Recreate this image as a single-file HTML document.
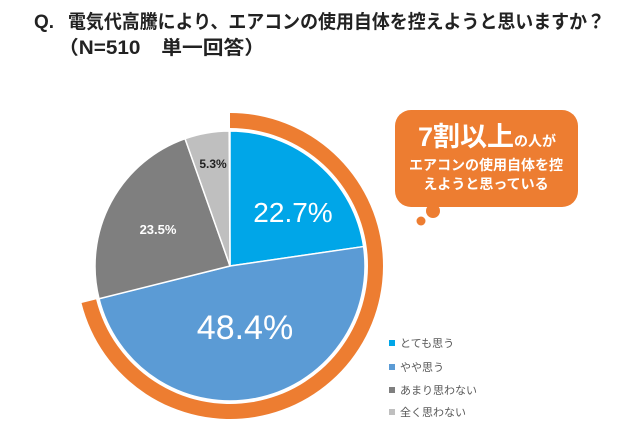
<!DOCTYPE html>
<html><head><meta charset="utf-8"><style>
body{margin:0;width:640px;height:437px;background:#fff;overflow:hidden;font-family:"Liberation Sans","Noto Sans CJK JP",sans-serif;}
</style></head><body>
<svg width="640" height="437" viewBox="0 0 640 437" xmlns="http://www.w3.org/2000/svg" font-family="Liberation Sans, Noto Sans CJK JP, sans-serif">
<text x="34" y="28" font-size="19" font-weight="bold" fill="#222">Q.</text>
<text x="68" y="28" font-size="19" font-weight="bold" fill="#222" textLength="537" lengthAdjust="spacingAndGlyphs">電気代高騰により、エアコンの使用自体を控えようと思いますか？</text>
<text x="58" y="54" font-size="19" font-weight="bold" fill="#222" textLength="207" lengthAdjust="spacingAndGlyphs">（N=510　単一回答）</text>
<g id="pie"></g>
<rect x="395" y="110" width="183" height="97" rx="16" fill="#ED7D31"/>
<circle cx="433" cy="211" r="7" fill="#ED7D31"/>
<circle cx="421" cy="221" r="4.5" fill="#ED7D31"/>
<text x="418" y="146" font-size="27" font-weight="bold" fill="#fff">7割以上<tspan font-size="14">の人が</tspan></text>
<text x="486" y="170" font-size="14" font-weight="bold" fill="#fff" text-anchor="middle">エアコンの使用自体を控</text>
<text x="486" y="189" font-size="14" font-weight="bold" fill="#fff" text-anchor="middle">えようと思っている</text>
<rect x="389" y="340" width="6" height="6" fill="#00A6E8"/>
<rect x="389" y="364" width="6" height="6" fill="#5B9BD5"/>
<rect x="389" y="387" width="6" height="6" fill="#7F7F7F"/>
<rect x="389" y="409" width="6" height="6" fill="#BFBFBF"/>
<text x="400" y="347" font-size="11" fill="#595959">とても思う</text>
<text x="400" y="371" font-size="11" fill="#595959">やや思う</text>
<text x="400" y="394" font-size="11" fill="#595959">あまり思わない</text>
<text x="400" y="416" font-size="11" fill="#595959">全く思わない</text>
</svg>
<script>
var cx=230,cy=266,r=135,NS="http://www.w3.org/2000/svg",g=document.getElementById('pie');
function pt(a,rr){a=a*Math.PI/180;return [cx+rr*Math.sin(a),cy-rr*Math.cos(a)];}
var ro=153,ri=138,a1=0,a2=256;
var p1=pt(a1,ro),p2=pt(a2,ro),p3=pt(a2,ri),p4=pt(a1,ri);
var ring=document.createElementNS(NS,'path');
ring.setAttribute('d','M'+p1+' A'+ro+','+ro+' 0 1 1 '+p2+' L'+p3+' A'+ri+','+ri+' 0 1 0 '+p4+'Z');
ring.setAttribute('fill','#ED7D31');g.appendChild(ring);
var d=[22.7,48.4,23.5,5.3],c=['#00A6E8','#5B9BD5','#7F7F7F','#BFBFBF'],s=0;
d.forEach(function(v,i){var e=s+v*3.6;var a=pt(s,r),b=pt(e,r);
var p=document.createElementNS(NS,'path');
p.setAttribute('d','M'+cx+','+cy+' L'+a+' A'+r+','+r+' 0 '+(e-s>180?1:0)+' 1 '+b+'Z');
p.setAttribute('fill',c[i]);p.setAttribute('stroke','#fff');p.setAttribute('stroke-width','1.5');g.appendChild(p);s=e;});
function t(x,y,sz,txt,col,w){var e=document.createElementNS(NS,'text');e.setAttribute('x',x);e.setAttribute('y',y);e.setAttribute('font-size',sz);e.setAttribute('fill',col);e.setAttribute('text-anchor','middle');if(w)e.setAttribute('font-weight','bold');e.textContent=txt;g.appendChild(e);}
t(293,222,28,'22.7%','#fff');
t(245,339,34,'48.4%','#fff');
t(158,234,13,'23.5%','#fff',1);
t(213,168,12,'5.3%','#222',1);
</script>
</body></html>
